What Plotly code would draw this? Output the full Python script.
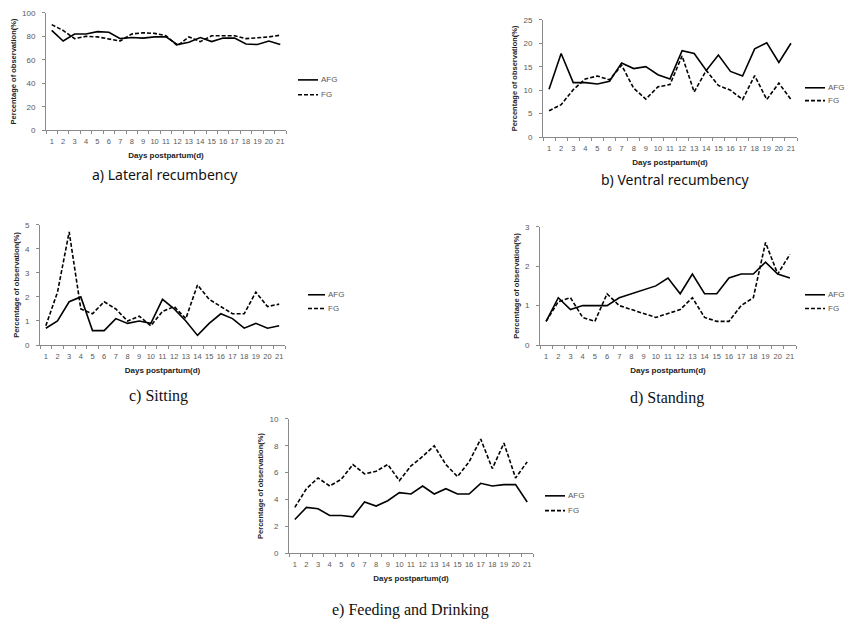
import plotly.graph_objects as go

W, H = 846, 627

# ---------------- data ----------------
days = list(range(1, 22))
day_labels = [str(d) for d in days]
series_names = ["AFG", "FG"]

lateral_afg = [85, 76, 82, 82, 84, 83.5, 78, 79, 78.5, 79.5, 79.5, 73, 75, 79, 75.5, 78.5, 78.5, 73.5, 73, 76, 73]
lateral_fg = [90, 85, 78, 80, 79.5, 78, 76, 82, 83, 82.5, 80.5, 72, 79.5, 75.5, 80.5, 80.5, 80.5, 78, 78.5, 79.5, 81]

ventral_afg = [10.2, 17.8, 11.6, 11.6, 11.3, 11.9, 15.8, 14.6, 15, 13.3, 12.4, 18.4, 17.8, 14.2, 17.5, 14, 13, 18.8, 20.1, 15.9, 20]
ventral_fg = [5.6, 6.9, 10.1, 12.4, 13, 12.2, 15.3, 10.4, 8.1, 10.7, 11.2, 17.3, 9.6, 14.2, 11, 10, 8, 13.1, 8, 11.5, 8]

sitting_afg = [0.7, 1.0, 1.8, 2.0, 0.6, 0.6, 1.1, 0.9, 1.0, 0.9, 1.9, 1.5, 1.0, 0.4, 0.9, 1.3, 1.1, 0.7, 0.9, 0.7, 0.8]
sitting_fg = [0.8, 2.2, 4.7, 1.5, 1.3, 1.8, 1.5, 1.0, 1.2, 0.8, 1.4, 1.6, 1.1, 2.5, 1.9, 1.6, 1.3, 1.3, 2.2, 1.6, 1.7]

standing_afg = [0.6, 1.2, 0.9, 1.0, 1.0, 1.0, 1.2, 1.3, 1.4, 1.5, 1.7, 1.3, 1.8, 1.3, 1.3, 1.7, 1.8, 1.8, 2.1, 1.8, 1.7]
standing_fg = [0.6, 1.1, 1.2, 0.7, 0.6, 1.3, 1.0, 0.9, 0.8, 0.7, 0.8, 0.9, 1.2, 0.7, 0.6, 0.6, 1.0, 1.2, 2.6, 1.8, 2.3]

feeding_afg = [2.5, 3.4, 3.3, 2.8, 2.8, 2.7, 3.8, 3.5, 3.9, 4.5, 4.4, 5.0, 4.4, 4.8, 4.4, 4.4, 5.2, 5.0, 5.1, 5.1, 3.8]
feeding_fg = [3.4, 4.8, 5.6, 5.0, 5.5, 6.6, 5.9, 6.1, 6.6, 5.4, 6.5, 7.2, 8.0, 6.6, 5.7, 6.8, 8.5, 6.3, 8.2, 5.6, 6.8]

y_max = [100, 25, 5, 3, 10]
y_step = [20, 5, 1, 1, 2]
captions = ["a) Lateral recumbency", "b) Ventral recumbency", "c) Sitting", "d) Standing",
            "e) Feeding and Drinking"]
x_title = "Days postpartum(d)"
y_title = "Percentage of observation(%)"

afg_series = [lateral_afg, ventral_afg, sitting_afg, standing_afg, feeding_afg]
fg_series = [lateral_fg, ventral_fg, sitting_fg, standing_fg, feeding_fg]

# ---------------- layout (pixels) ----------------
# plot frame: x_left, x_right, y_top, y_bottom
frames = [(46, 286, 9, 128), (543, 797, 16, 135), (40, 285, 224, 346),
          (540, 796, 226, 346), (289, 533, 421, 557)]
caption_pos = [(165, 173), (675, 178), (158, 398), (667, 400), (410, 615)]
caption_font = ["Noto Sans", "Noto Sans", "Liberation Serif", "Liberation Serif", "Liberation Serif"]
caption_size = [14, 14, 16, 16, 16]
# legend: line x0, x1, y for AFG, y for FG
legend_pos = [(298, 318, 77, 92), (805, 825, 85, 98), (308, 325, 295, 309),
              (805, 825, 295, 309), (545, 565, 499, 514)]

AXIS_COLOR = "#8a8a8a"
TICK_COLOR = "#595959"
LINE_W = 1.6
DASH = "4px,2px"


def fx(px):
    return px / W


def fy(py):
    return 1 - py / H


fig = go.Figure()
layout = dict(width=W, height=H, margin=dict(l=0, r=0, t=0, b=0),
              paper_bgcolor="white", plot_bgcolor="white", showlegend=False)
shapes = []
annotations = []

for i in range(5):
    n = "" if i == 0 else str(i + 1)
    xl, xr, yt, yb = frames[i]
    fig.add_trace(go.Scatter(x=days, y=afg_series[i], mode="lines", name=series_names[0],
                             line=dict(color="black", width=LINE_W),
                             xaxis="x" + n, yaxis="y" + n))
    fig.add_trace(go.Scatter(x=days, y=fg_series[i], mode="lines", name=series_names[1],
                             line=dict(color="black", width=LINE_W, dash=DASH),
                             xaxis="x" + n, yaxis="y" + n))
    layout["xaxis" + n] = dict(
        domain=[fx(xl), fx(xr)], anchor="y" + n, range=[0.5, 21.5],
        tickmode="array", tickvals=days, ticktext=day_labels, ticks="", tickangle=0,
        showline=True, linecolor=AXIS_COLOR, linewidth=1, showgrid=False, zeroline=False,
        tickfont=dict(family="Liberation Sans", size=7.5, color=TICK_COLOR),
        ticklabelstandoff=4,
        minor=dict(tick0=0.5, dtick=1, ticks="outside", ticklen=3, tickcolor=AXIS_COLOR, tickwidth=1),
        title=dict(text=x_title, standoff=7,
                   font=dict(family="Liberation Sans", size=8, color="#222222", weight="bold")),
    )
    layout["yaxis" + n] = dict(
        domain=[fy(yb), fy(yt)], anchor="x" + n, range=[0, y_max[i]],
        tickmode="linear", tick0=0, dtick=y_step[i], ticks="outside", ticklen=3,
        tickcolor=AXIS_COLOR, showline=True, linecolor=AXIS_COLOR, linewidth=1,
        showgrid=False, zeroline=False,
        tickfont=dict(family="Liberation Sans", size=8, color=TICK_COLOR),
        ticklabelstandoff=5,
        title=dict(text=y_title, standoff=4,
                   font=dict(family="Liberation Sans", size=7.5, color="#222222", weight="bold")),
    )
    cx, cy = caption_pos[i]
    annotations.append(dict(text=captions[i], x=fx(cx), y=fy(cy), xref="paper", yref="paper",
                            xanchor="center", yanchor="middle", showarrow=False,
                            font=dict(family=caption_font[i], size=caption_size[i], color="#111111")))
    lx0, lx1, ya, yf = legend_pos[i]
    for name, yy, dash in ((series_names[0], ya, "solid"), (series_names[1], yf, DASH)):
        shapes.append(dict(type="line", xref="paper", yref="paper", x0=fx(lx0), x1=fx(lx1),
                           y0=fy(yy), y1=fy(yy), line=dict(color="black", width=LINE_W, dash=dash)))
        annotations.append(dict(text=name, x=fx(lx1 + 1), y=fy(yy), xref="paper", yref="paper",
                                xanchor="left", yanchor="middle", showarrow=False,
                                font=dict(family="Liberation Sans", size=8, color=TICK_COLOR)))

layout["shapes"] = shapes
layout["annotations"] = annotations
fig.update_layout(**layout)
fig.write_html("out.html")
